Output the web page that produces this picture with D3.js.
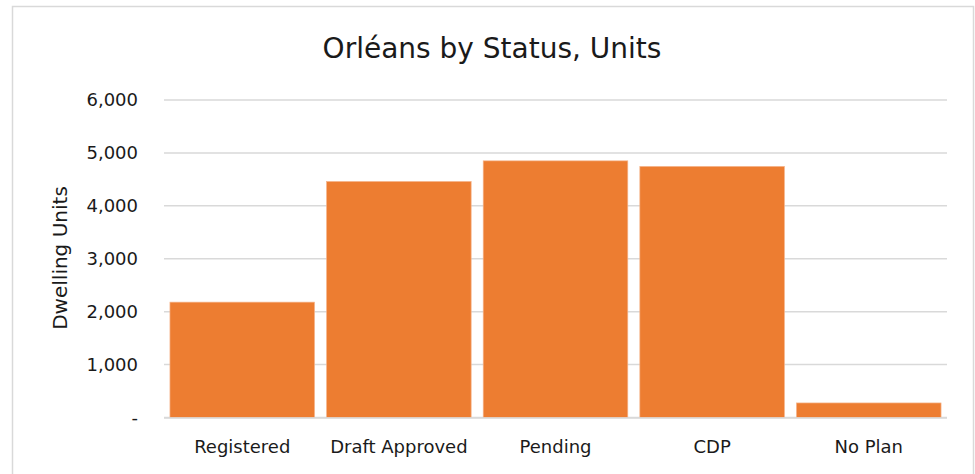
<!DOCTYPE html>
<html>
<head>
<meta charset="utf-8">
<script src="https://cdn.jsdelivr.net/npm/d3@7"></script>
<style>
  body { margin: 0; background: #fff; }
  text { font-family: "DejaVu Sans", sans-serif; fill: #1a1a1a; }
</style>
</head>
<body>
<div class="chart-container"></div>
<script>
var categories = ['Registered', 'Draft Approved', 'Pending', 'CDP', 'No Plan'];
var units = [2180, 4460, 4850, 4745, 275];
var yTicks = [0, 1000, 2000, 3000, 4000, 5000, 6000];

var W = 975, H = 474;
var margin = {top: 100, right: 28, bottom: 56, left: 164};

var svg = d3.select('.chart-container').append('svg')
  .attr('width', W)
  .attr('height', H);

// outer chart border
svg.append('rect')
  .attr('x', 12.5).attr('y', 6.5)
  .attr('width', 961).attr('height', 480)
  .attr('fill', 'none')
  .attr('stroke', '#d9d9d9')
  .attr('stroke-width', 1.5);

var x = d3.scaleBand()
  .domain(categories)
  .range([margin.left, 947])
  .paddingInner(0.077)
  .paddingOuter(0.038);

var y = d3.scaleLinear()
  .domain([0, 6000])
  .range([417.5, margin.top]);

// gridlines
svg.append('g')
  .selectAll('line')
  .data(yTicks)
  .enter().append('line')
    .attr('x1', margin.left)
    .attr('x2', 947)
    .attr('y1', d => y(d))
    .attr('y2', d => y(d))
    .attr('stroke', '#d9d9d9')
    .attr('stroke-width', 1.5);

// bars
svg.append('g')
  .selectAll('rect')
  .data(units)
  .enter().append('rect')
    .attr('x', (d, i) => x(categories[i]))
    .attr('width', x.bandwidth())
    .attr('y', d => y(d))
    .attr('height', d => y(0) - y(d))
    .attr('fill', '#ED7D31')
    .attr('stroke', '#f5b48a')
    .attr('stroke-width', 0.7);

// baseline redrawn over bars
svg.append('line')
  .attr('x1', margin.left).attr('x2', 947)
  .attr('y1', y(0) + 0.5).attr('y2', y(0) + 0.5)
  .attr('stroke', '#d9d9d9')
  .attr('stroke-width', 1.5);

// y axis
var yAxis = d3.axisLeft(y)
  .tickValues(yTicks)
  .tickSize(0)
  .tickPadding(0)
  .tickFormat(d => d === 0 ? '-' : d3.format(',')(d));

var gY = svg.append('g')
  .attr('transform', 'translate(138,0)')
  .call(yAxis);
gY.select('.domain').remove();
gY.attr('font-family', null).attr('font-size', 18);
gY.selectAll('text').attr('fill', '#1a1a1a');

// x axis
var xAxis = d3.axisBottom(x).tickSize(0).tickPadding(0);
var gX = svg.append('g')
  .attr('transform', 'translate(0,' + 440 + ')')
  .call(xAxis);
gX.select('.domain').remove();
gX.attr('font-family', null).attr('font-size', 18);
gX.selectAll('text').attr('fill', '#1a1a1a');

// title
svg.append('text')
  .attr('x', 492)
  .attr('y', 58)
  .attr('text-anchor', 'middle')
  .attr('font-size', 28)
  .attr('fill', '#0d0d0d')
  .text('Orléans by Status, Units');

// y axis title
svg.append('text')
  .attr('transform', 'translate(67,' + 258 + ') rotate(-90)')
  .attr('text-anchor', 'middle')
  .attr('font-size', 20)
  .text('Dwelling Units');
</script>
</body>
</html>
